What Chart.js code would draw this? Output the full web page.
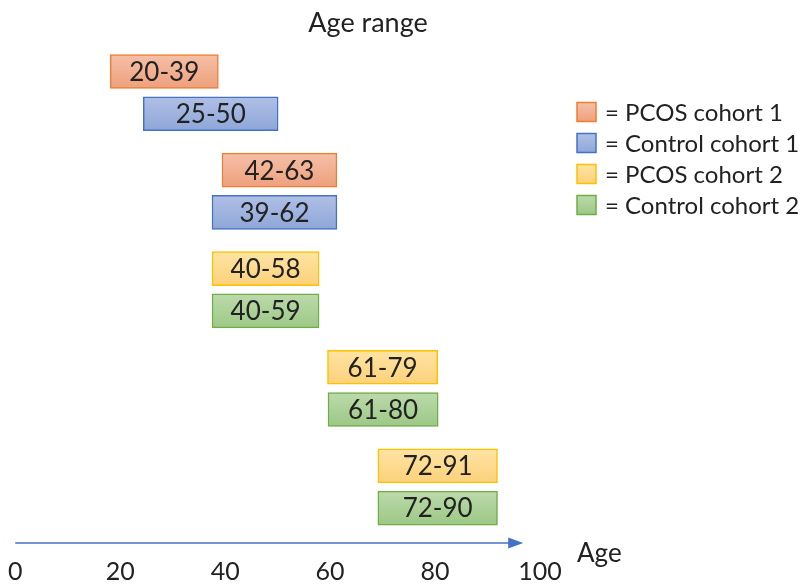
<!DOCTYPE html>
<html>
<head>
<meta charset="utf-8">
<script src="https://cdn.jsdelivr.net/npm/chart.js@4"></script>
<style>
  html, body { margin: 0; padding: 0; background: #fff; }
  #wrap { width: 810px; height: 588px; }
</style>
</head>
<body>
<div id="wrap"><canvas id="myChart" width="810" height="588"></canvas></div>
<script>
// age ranges as written in the boxes
const rangeLabels = ['20-39', '25-50', '42-63', '39-62', '40-58', '40-59', '61-79', '61-80', '72-91', '72-90']
// where each box starts / ends on the age axis
const boxStart = [18.1, 24.4, 39.4, 37.5, 37.5, 37.5, 59.5, 59.6, 69.1, 69.1]
const boxEnd = [38.7, 50.1, 61.3, 61.3, 57.9, 57.9, 80.5, 80.6, 91.9, 91.9]
// which cohort each box belongs to (index into cohortNames)
const boxCohort = [0, 1, 0, 1, 2, 3, 2, 3, 2, 3]
// boxes come in pairs, pair number of each box
const boxPair = [0, 0, 1, 1, 2, 2, 3, 3, 4, 4]

const cohortNames = ['PCOS cohort 1', 'Control cohort 1', 'PCOS cohort 2', 'Control cohort 2']
const xTicks = [0, 20, 40, 60, 80, 100]

// colours: top of gradient, bottom of gradient, border
const cohortColors = [
    ['#f5c0a8', '#eea07c', '#ed7d31'],
    ['#b0c0e6', '#8ea6d8', '#4472c4'],
    ['#ffe4a4', '#fcd17a', '#ffc000'],
    ['#bcdaab', '#9cc886', '#70ad47']
]

const FONT = 'Lato, "Open Sans", sans-serif'
const BAR_H = 34

// rows: 3 units inside a pair, 4 units between pairs
function rowOf(i) {
    let inPair = boxPair.slice(0, i).filter(p => p === boxPair[i]).length
    return boxPair[i] * 7 + inPair * 3
}

const datasets = cohortNames.map((name, c) => {
    let pts = []
    boxCohort.forEach((bc, i) => {
        if (bc === c) pts.push({ x: [boxStart[i], boxEnd[i]], y: rowOf(i), label: rangeLabels[i] })
    })
    return {
        label: name,
        data: pts,
        grouped: false,
        borderColor: cohortColors[c][2],
        borderWidth: 1.5,
        borderSkipped: false,
        barThickness: BAR_H,
        backgroundColor: (ctx) => {
            let chart = ctx.chart
            if (!chart.chartArea || !ctx.raw) return cohortColors[c][1]
            let yc = chart.scales.y.getPixelForValue(ctx.raw.y)
            let g = chart.ctx.createLinearGradient(0, yc - BAR_H / 2, 0, yc + BAR_H / 2)
            g.addColorStop(0, cohortColors[c][0])
            g.addColorStop(1, cohortColors[c][1])
            return g
        }
    }
})

// text in boxes, title, axis arrow, legend
const extras = {
    id: 'extras',
    afterDatasetsDraw(chart) {
        let ctx = chart.ctx
        ctx.save()
        ctx.fillStyle = '#222'
        ctx.font = '26px ' + FONT
        ctx.textAlign = 'center'
        ctx.textBaseline = 'middle'
        chart.data.datasets.forEach((ds, di) => {
            chart.getDatasetMeta(di).data.forEach((el, j) => {
                let cx = (el.x + el.base) / 2
                ctx.fillText(ds.data[j].label, cx, el.y + 1)
            })
        })
        ctx.restore()
    },
    afterDraw(chart) {
        let ctx = chart.ctx
        let xs = chart.scales.x
        let area = chart.chartArea
        ctx.save()

        // title
        ctx.fillStyle = '#222'
        ctx.font = '27px ' + FONT
        ctx.textAlign = 'center'
        ctx.textBaseline = 'alphabetic'
        ctx.fillText('Age range', 368, 32)

        // axis arrow
        let ay = area.bottom
        let x0 = xs.getPixelForValue(0)
        let x1 = xs.getPixelForValue(96.8)
        ctx.strokeStyle = '#4472c4'
        ctx.fillStyle = '#4472c4'
        ctx.lineWidth = 1.5
        ctx.beginPath()
        ctx.moveTo(x0, ay)
        ctx.lineTo(x1 - 12, ay)
        ctx.stroke()
        ctx.beginPath()
        ctx.moveTo(x1, ay)
        ctx.lineTo(x1 - 15, ay - 5.5)
        ctx.lineTo(x1 - 15, ay + 5.5)
        ctx.closePath()
        ctx.fill()

        // axis title
        ctx.fillStyle = '#222'
        ctx.font = '26px ' + FONT
        ctx.textAlign = 'left'
        ctx.fillText('Age', 577, ay + 19)

        // legend
        let lx = 577, ly = 112
        ctx.textBaseline = 'middle'
        cohortNames.forEach((name, c) => {
            let y = ly + c * 31
            let g = ctx.createLinearGradient(0, y - 9.5, 0, y + 9.5)
            g.addColorStop(0, cohortColors[c][0])
            g.addColorStop(1, cohortColors[c][1])
            ctx.fillStyle = g
            ctx.fillRect(lx, y - 9.5, 19, 19)
            ctx.strokeStyle = cohortColors[c][2]
            ctx.lineWidth = 1.5
            ctx.strokeRect(lx, y - 9.5, 19, 19)
            ctx.fillStyle = '#222'
            ctx.font = '24px ' + FONT
            ctx.fillText('= ' + name, lx + 28, y + 1)
        })
        ctx.restore()
    }
}

let myChart = document.getElementById('myChart').getContext('2d')

const barChart = new Chart(myChart, {
    type: 'bar',
    data: { datasets: datasets },
    plugins: [extras],
    options: {
        indexAxis: 'y',
        responsive: false,
        animation: false,
        layout: {
            padding: { left: 15, right: 270, top: 0, bottom: -4 }
        },
        scales: {
            x: {
                type: 'linear',
                min: 0,
                max: 100,
                afterBuildTicks: (axis) => {
                    axis.ticks = xTicks.map(v => ({ value: v }))
                },
                grid: { display: false },
                border: { display: false },
                ticks: {
                    color: '#222',
                    padding: 8,
                    maxRotation: 0,
                    font: { family: FONT, size: 25, lineHeight: 1 }
                }
            },
            y: {
                type: 'linear',
                display: false,
                offset: false,
                reverse: true,
                min: -5.08,
                max: 33.48
            }
        },
        plugins: {
            legend: { display: false },
            tooltip: { enabled: false }
        }
    }
})
</script>
</body>
</html>
